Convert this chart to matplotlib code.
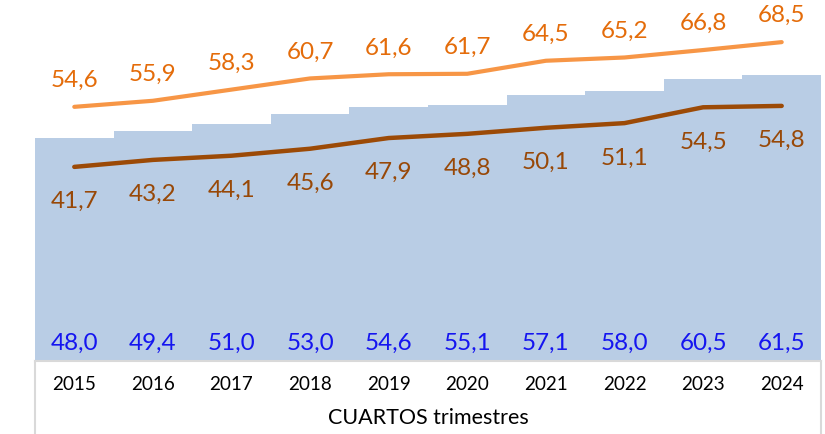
import matplotlib
matplotlib.use("Agg")
import matplotlib.pyplot as plt
from matplotlib.lines import Line2D

years = ["2015", "2016", "2017", "2018", "2019", "2020", "2021", "2022", "2023", "2024"]
bar_values = [48.0, 49.4, 51.0, 53.0, 54.6, 55.1, 57.1, 58.0, 60.5, 61.5]
orange_values = [54.6, 55.9, 58.3, 60.7, 61.6, 61.7, 64.5, 65.2, 66.8, 68.5]
brown_values = [41.7, 43.2, 44.1, 45.6, 47.9, 48.8, 50.1, 51.1, 54.5, 54.8]
xlabel = "CUARTOS trimestres"

plt.rcParams['font.family'] = ['Lato', 'DejaVu Sans']

W, H = 825, 434
fig = plt.figure(figsize=(W / 100, H / 100), dpi=100)
left, right, bottom_px = 35, 821, 361
ax = fig.add_axes([left / W, (H - bottom_px) / H, (right - left) / W, bottom_px / H])

x = list(range(len(years)))
ax.bar(x, bar_values, width=1.0, color="#b9cde5", linewidth=0, zorder=1)
ax.plot(x, orange_values, color="#f79646", lw=3.0, solid_capstyle="round", zorder=3)
ax.plot(x, brown_values, color="#9c4a06", lw=3.2, solid_capstyle="round", zorder=3)

ax.set_xlim(-0.5, len(years) - 0.5)
ax.set_ylim(0, 77.55)
ax.axis("off")

fmt = lambda v: f"{v:.1f}".replace(".", ",")
for i in x:
    ax.annotate(fmt(orange_values[i]), (i, orange_values[i]), xytext=(0, 19),
                textcoords="offset points", ha="center", va="center",
                fontsize=17.5, color="#e46c0a")
    ax.annotate(fmt(brown_values[i]), (i, brown_values[i]), xytext=(0, -25),
                textcoords="offset points", ha="center", va="center",
                fontsize=17.5, color="#984807")
    ax.text(i, 18 / bottom_px, fmt(bar_values[i]), transform=ax.get_xaxis_transform(),
            ha="center", va="center", fontsize=17.5, color="#1515f0")
    ax.text(i, -23 / bottom_px, years[i], transform=ax.get_xaxis_transform(),
            ha="center", va="center", fontsize=13.6, color="#000000")

ax.text(0.5, -57 / bottom_px, xlabel, transform=ax.transAxes, ha="center",
        va="center", fontsize=15.5, color="#000000")

gray = "#d9d9d9"
fy = (H - bottom_px) / H
fig.add_artist(Line2D([left / W, right / W], [fy, fy], color=gray, lw=1.5, transform=fig.transFigure))
fig.add_artist(Line2D([left / W, left / W], [0, fy], color=gray, lw=1.5, transform=fig.transFigure))
fig.add_artist(Line2D([right / W, right / W], [0, fy], color=gray, lw=1.5, transform=fig.transFigure))

fig.savefig("out.png", dpi=100)
